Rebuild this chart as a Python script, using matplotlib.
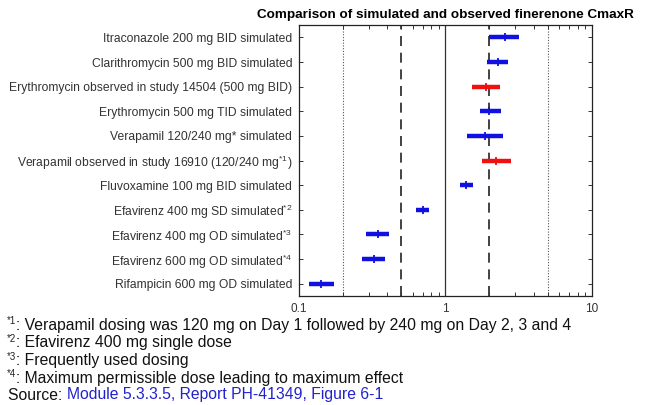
import numpy as np
import matplotlib
matplotlib.use("Agg")
import matplotlib.pyplot as plt

plt.rcParams["font.family"] = ["Liberation Sans", "DejaVu Sans"]
plt.rcParams["mathtext.fontset"] = "custom"
plt.rcParams["mathtext.rm"] = "Liberation Sans"
plt.rcParams["mathtext.it"] = "Liberation Sans"

# Geometric mean CmaxR with 90% range, top row first
labels = [
    "Itraconazole 200 mg BID simulated",
    "Clarithromycin 500 mg BID simulated",
    "Erythromycin observed in study 14504 (500 mg BID)",
    "Erythromycin 500 mg TID simulated",
    "Verapamil 120/240 mg* simulated",
    "Verapamil observed in study 16910 (120/240 mg$^{*1}$)",
    "Fluvoxamine 100 mg BID simulated",
    "Efavirenz 400 mg SD simulated$^{*2}$",
    "Efavirenz 400 mg OD simulated$^{*3}$",
    "Efavirenz 600 mg OD simulated$^{*4}$",
    "Rifampicin 600 mg OD simulated",
]
point = [2.56, 2.27, 1.89, 2.00, 1.87, 2.22, 1.39, 0.70, 0.344, 0.324, 0.142]
lower = [2.00, 1.92, 1.53, 1.71, 1.41, 1.77, 1.25, 0.625, 0.288, 0.270, 0.117]
upper = [3.17, 2.68, 2.37, 2.39, 2.48, 2.81, 1.54, 0.774, 0.414, 0.389, 0.173]
observed = [False, False, True, False, False, True, False, False, False, False, False]

footnotes = [
    ("*1", ": Verapamil dosing was 120 mg on Day 1 followed by 240 mg on Day 2, 3 and 4"),
    ("*2", ": Efavirenz 400 mg single dose"),
    ("*3", ": Frequently used dosing"),
    ("*4", ": Maximum permissible dose leading to maximum effect"),
]
source_ref = "Module 5.3.3.5, Report PH-41349, Figure 6-1"

W, H = 646, 405
fig = plt.figure(figsize=(W / 100, H / 100), dpi=100)
ax = fig.add_axes([0.463, 0.269, 0.453, 0.669])

n = len(labels)
ypos = np.arange(n)[::-1]

# reference lines: no effect, 2-fold and 5-fold boundaries
ax.axvline(1, color="#333333", lw=0.9, zorder=1)
for v in (0.5, 2):
    ax.axvline(v, color="#222222", lw=1.2, ls=(0, (6, 4)), zorder=1)
for v in (0.2, 5):
    ax.axvline(v, color="#555555", lw=0.8, ls=(0, (1, 1.5)), zorder=1)

for y, p, lo, hi, obs in zip(ypos, point, lower, upper, observed):
    c = "#ee1111" if obs else "#1010e0"
    ax.plot([lo, hi], [y, y], color=c, lw=3.2, solid_capstyle="butt", zorder=3)
    ax.plot(p, y, marker="+", color=c, ms=6, mew=1.3, zorder=4)

ax.set_xscale("log")
ax.set_xlim(0.1, 10)
ax.set_ylim(-0.5, n - 0.5)
ax.set_yticks(ypos)
ax.set_yticklabels(labels, fontsize=8.7, color="#333333")
ax.set_xticks([0.1, 1, 10])
ax.set_xticklabels(["0.1", "1", "10"], fontsize=8.5, color="#333333")
ax.tick_params(axis="both", which="both", direction="in", top=True, right=True,
               length=3, width=0.7, colors="#333333")
ax.tick_params(axis="both", labelcolor="#333333")
ax.tick_params(axis="y", pad=5)
ax.tick_params(axis="x", pad=5)
for s in ax.spines.values():
    s.set_linewidth(0.9)
    s.set_color("#222222")

ax.set_title("Comparison of simulated and observed finerenone CmaxR",
             fontsize=9.7, fontweight="bold", pad=5)

# footnotes below the chart
row_y = [325.5, 343, 360.5, 378, 395]
for (mark, text), py in zip(footnotes, row_y):
    fig.text(7 / W, 1 - (py - 4) / H, mark, fontsize=7, va="center", color="#222222")
    fig.text(16 / W, 1 - py / H, text, fontsize=11.3, va="center", color="#111111")

src = fig.text(8 / W, 1 - row_y[-1] / H, "Source: ", fontsize=11.3, va="center",
               color="#111111")
ax.annotate(source_ref, xy=(1, 0), xycoords=src, fontsize=11.3, va="bottom", ha="left",
            color="#2222cc", annotation_clip=False)

fig.savefig("out.png", dpi=100)
